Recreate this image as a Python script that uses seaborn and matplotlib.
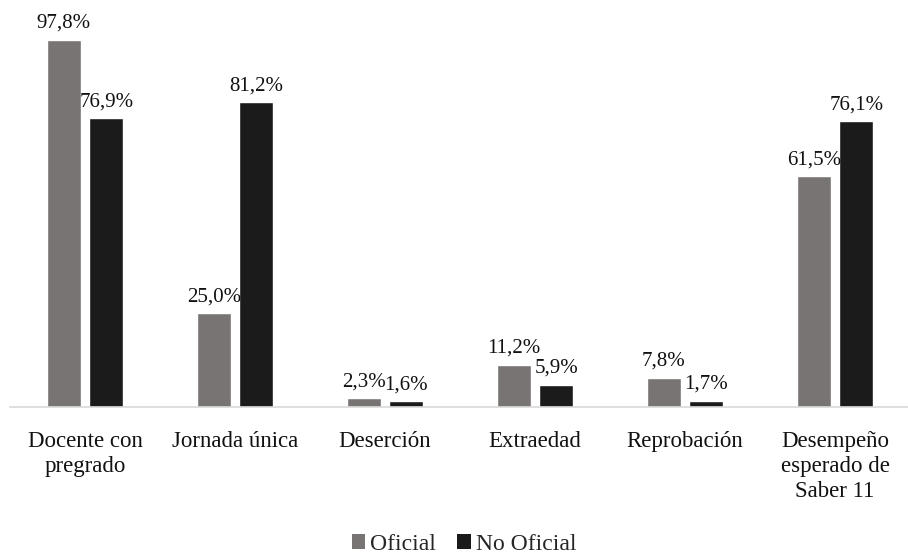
import matplotlib
matplotlib.use("Agg")
import matplotlib.pyplot as plt
from matplotlib.patches import Patch
import seaborn as sns
import pandas as pd

categorias = ["Docente con\npregrado", "Jornada única", "Deserción",
              "Extraedad", "Reprobación", "Desempeño\nesperado de\nSaber 11"]
oficial = [97.8, 25.0, 2.3, 11.2, 7.8, 61.5]
no_oficial = [76.9, 81.2, 1.6, 5.9, 1.7, 76.1]
series = ["Oficial", "No Oficial"]
colores = ["#787473", "#1b1b1b"]

df = pd.DataFrame({
    "categoria": categorias * 2,
    "valor": oficial + no_oficial,
    "sector": [series[0]] * len(categorias) + [series[1]] * len(categorias),
})

sns.set_theme(style="white")
plt.rcParams["font.family"] = ["Liberation Serif", "DejaVu Serif"]

fig = plt.figure(figsize=(9.08, 5.56), dpi=100)
ax = fig.add_axes([10 / 908, 149 / 556, 900 / 908, 375.3 / 556])

sns.barplot(data=df, x="categoria", y="valor", hue="sector", order=categorias,
            hue_order=series, palette=dict(zip(series, colores)),
            width=0.568, gap=0.2, saturation=1, legend=False, ax=ax)

for cont in ax.containers:
    ax.bar_label(cont, labels=[f"{v:.1f}%".replace(".", ",") for v in cont.datavalues],
                 padding=5, fontsize=15, color="#111111")

ax.set_xlim(-0.5, 5.5)
ax.set_ylim(0, 100)
ax.set_xlabel("")
ax.set_ylabel("")
ax.set_yticks([])
ax.tick_params(axis="x", length=0, pad=17, labelsize=16.5, colors="#111111")
for lbl in ax.get_xticklabels():
    lbl.set_linespacing(1.25)
for side in ["top", "right", "left"]:
    ax.spines[side].set_visible(False)
ax.spines["bottom"].set_color("#d9d9d9")
ax.spines["bottom"].set_linewidth(1.2)

handles = [Patch(facecolor=c, edgecolor="none", label=s) for s, c in zip(series, colores)]
fig.legend(handles=handles, loc="center", bbox_to_anchor=(464 / 908, 1 - 544 / 556), ncol=2,
           frameon=False, fontsize=17, handlelength=0.58, handleheight=0.58,
           handletextpad=0.2, columnspacing=0.9)

fig.savefig("out.png", dpi=100)
